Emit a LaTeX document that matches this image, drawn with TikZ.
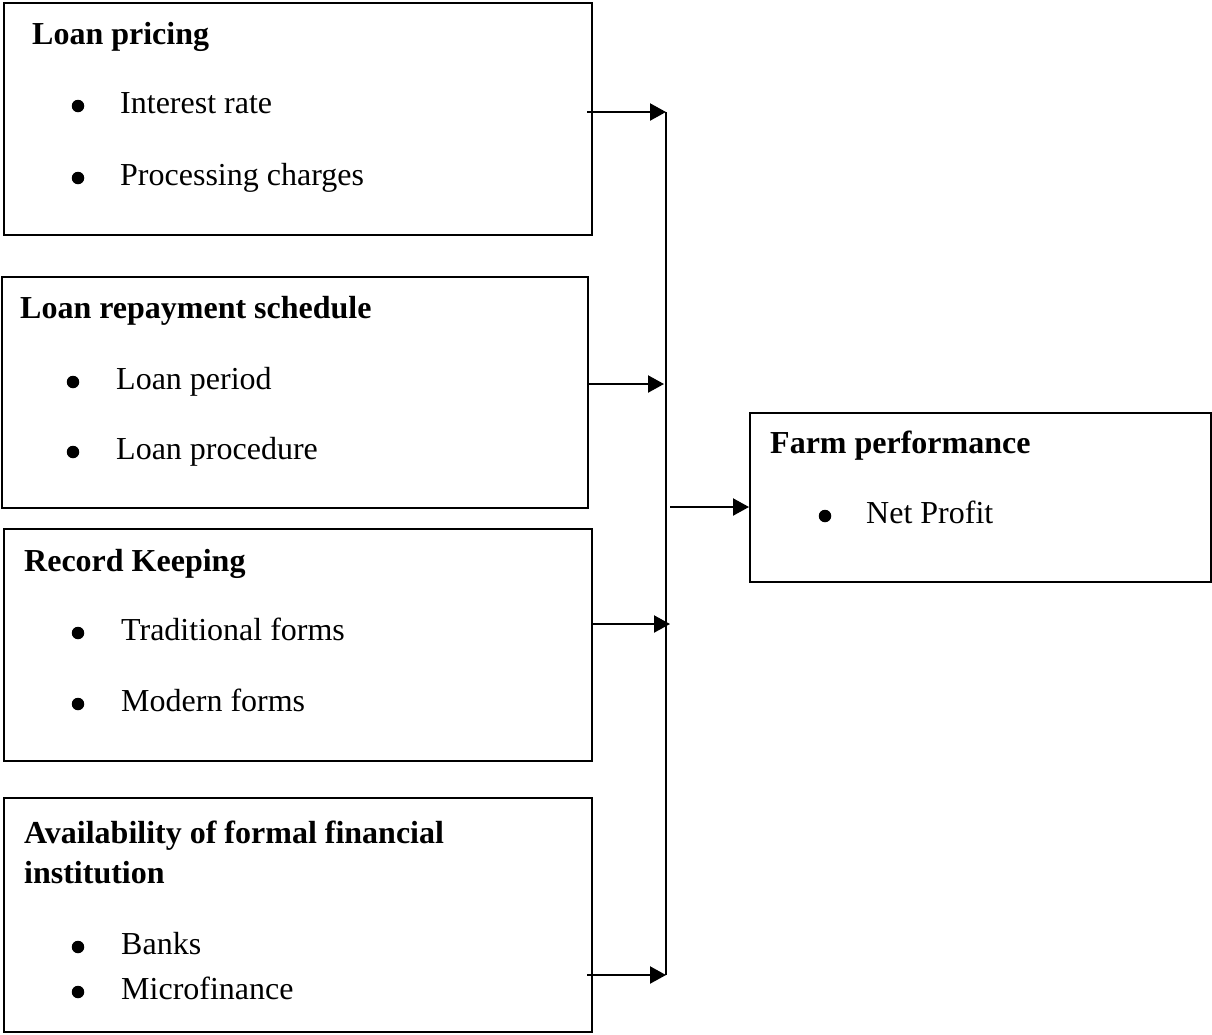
\documentclass[tikz,border=0pt]{standalone}
\usepackage{fontspec}
\setmainfont{Liberation Serif}
\usetikzlibrary{arrows.meta}
\begin{document}
\begin{tikzpicture}[x=1pt,y=-1pt,
  box/.style={draw, line width=1.5pt, inner sep=0pt, anchor=north west},
  txt/.style={anchor=base west, inner sep=0pt, font=\fontsize{32}{38}\selectfont},
  hdr/.style={txt, font=\fontsize{32}{38}\selectfont\bfseries},
  dot/.style={circle, fill=black, inner sep=0pt, minimum size=12.5pt},
  arr/.style={line width=2.2pt, -{Triangle[length=16pt,width=17pt]}},
  trunk/.style={line width=1.6pt}]
\useasboundingbox (0,0) rectangle (1212,1034);
% boxes
\node[box, minimum width=588pt, minimum height=232pt] (b1) at (3,2) {};
\node[box, minimum width=586pt, minimum height=231pt] (b2) at (1,276) {};
\node[box, minimum width=588pt, minimum height=232pt] (b3) at (3,528) {};
\node[box, minimum width=588pt, minimum height=234pt] (b4) at (3,797) {};
\node[box, minimum width=461pt, minimum height=169pt] (f) at (749,412) {};
% texts box 1
\node[hdr] (h1) at (32,44) {Loan pricing};
\node[dot] (p1a) at (78,106) {};
\node[txt] (t1a) at (120,113) {Interest rate};
\node[dot] (p1b) at (78,178) {};
\node[txt] (t1b) at (120,185) {Processing charges};
% box 2
\node[hdr] (h2) at (20,318) {Loan repayment schedule};
\node[dot] (p2a) at (73,382) {};
\node[txt] (t2a) at (116,389) {Loan period};
\node[dot] (p2b) at (73,452) {};
\node[txt] (t2b) at (116,459) {Loan procedure};
% box 3
\node[hdr] (h3) at (24,571) {Record Keeping};
\node[dot] (p3a) at (78,633) {};
\node[txt] (t3a) at (121,640) {Traditional forms};
\node[dot] (p3b) at (78,704) {};
\node[txt] (t3b) at (121,711) {Modern forms};
% box 4
\node[hdr] (h4a) at (24,843) {Availability of formal financial};
\node[hdr] (h4b) at (24,883) {institution};
\node[dot] (p4a) at (78,947) {};
\node[txt] (t4a) at (121,954) {Banks};
\node[dot] (p4b) at (78,992) {};
\node[txt] (t4b) at (121,999) {Microfinance};
% farm
\node[hdr] (hf) at (770,453) {Farm performance};
\node[dot] (pf) at (825,516) {};
\node[txt] (tf) at (866,523) {Net Profit};
% connectors
\coordinate (j1) at (666,112);
\coordinate (j2) at (664,384);
\coordinate (j3) at (670,624);
\coordinate (j4) at (666,975);
\coordinate (s1) at (587,112);
\coordinate (s2) at (587,384);
\coordinate (s3) at (591,624);
\coordinate (s4) at (587,975);
\coordinate (jf) at (670,507);
\draw[trunk] (j1) -- (j4);
\draw[arr] (s1) -- (j1);
\draw[arr] (s2) -- (j2);
\draw[arr] (s3) -- (j3);
\draw[arr] (s4) -- (j4);
\draw[arr] (jf) -- (f.west |- jf);
\end{tikzpicture}
\end{document}
